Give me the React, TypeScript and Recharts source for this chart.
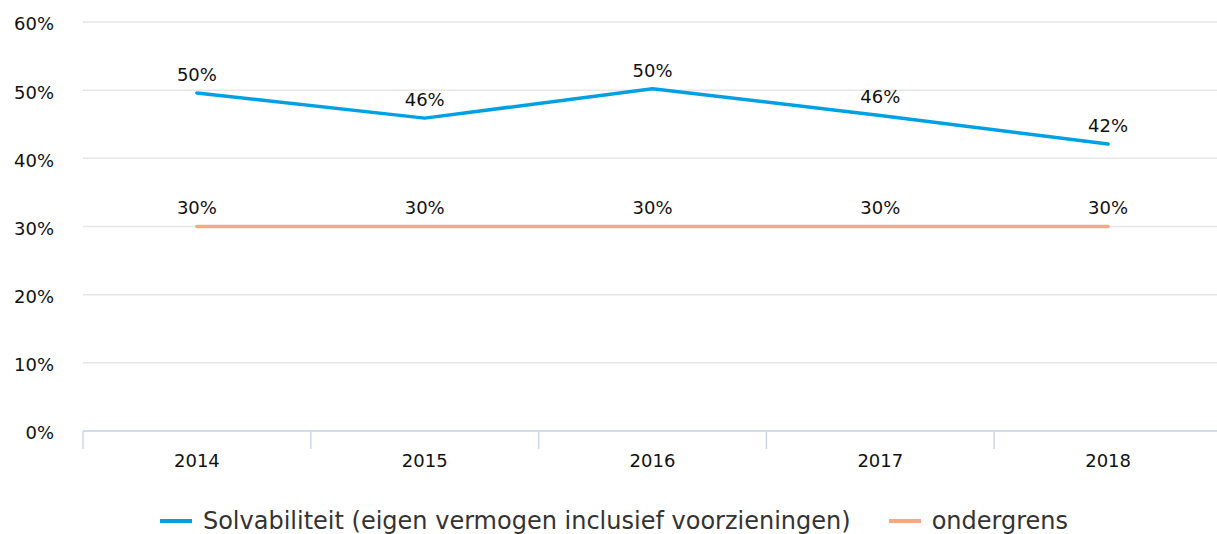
import React from 'react';
import { LineChart, Line, XAxis, YAxis, CartesianGrid, Legend, LabelList } from 'recharts';

const years = ['2014', '2015', '2016', '2017', '2018'];
const solvabiliteit = [49.6, 45.9, 50.2, 46.3, 42.1];
const ondergrens = [30, 30, 30, 30, 30];
const yTicks = [0, 10, 20, 30, 40, 50, 60];

const seriesNames: Record<string, string> = {
  solv: 'Solvabiliteit (eigen vermogen inclusief voorzieningen)',
  onder: 'ondergrens',
};
const seriesOrder = ['solv', 'onder'];

const data = years.map((y, i) => ({ year: y, solv: solvabiliteit[i], onder: ondergrens[i] }));

const W = 1222;
const H = 534;
const Y_AXIS_W = 83;
const BAND = (W - Y_AXIS_W) / years.length;
const FONT = '"DejaVu Sans", Verdana, sans-serif';
const BLUE = '#00a0e3';
const ORANGE = '#f5a983';

const XTick = (props: any) => {
  const { x, y, payload } = props;
  const left = x - BAND / 2;
  return (
    <g>
      <line x1={left} x2={left} y1={y} y2={y + 18} stroke="#ccd6eb" strokeWidth={1.5} />
      <text x={x} y={y + 36} textAnchor="middle" fontSize={18} fill="#111" fontFamily={FONT}>
        {payload.value}
      </text>
    </g>
  );
};

const LegendContent = (props: any) => {
  const payload = [...(props.payload || [])].sort(
    (a: any, b: any) => seriesOrder.indexOf(a.dataKey) - seriesOrder.indexOf(b.dataKey)
  );
  return (
    <div
      style={{
        display: 'flex',
        justifyContent: 'center',
        alignItems: 'center',
        height: 63,
        paddingTop: 37,
        paddingLeft: 6,
        boxSizing: 'border-box',
        fontFamily: FONT,
        fontSize: 24,
        lineHeight: '28px',
        color: '#333',
        gap: 38,
      }}
    >
      {payload.map((p: any) => (
        <div key={p.dataKey} style={{ display: 'flex', alignItems: 'center' }}>
          <div style={{ width: 32, height: 4, background: p.color, marginRight: 11 }} />
          <span>{seriesNames[p.dataKey]}</span>
        </div>
      ))}
    </div>
  );
};

export default function App() {
  return (
    <div style={{ position: 'absolute', left: 0, top: 0, width: 1217, height: H, overflow: 'hidden', background: '#fff' }}>
      <LineChart width={W} height={H} data={data} margin={{ top: 22, right: 0, bottom: 0, left: 0 }}>
        <CartesianGrid vertical={false} stroke="#e6e6e6" strokeWidth={1.5} />
        <XAxis
          dataKey="year"
          height={40}
          padding={{ left: BAND / 2, right: BAND / 2 }}
          axisLine={{ stroke: '#ccd6eb', strokeWidth: 1.5 }}
          tickLine={false}
          tickSize={0}
          tickMargin={0}
          tick={<XTick />}
          interval={0}
        />
        <YAxis
          width={Y_AXIS_W}
          domain={[0, 60]}
          ticks={yTicks}
          axisLine={false}
          tickLine={false}
          tickSize={0}
          tickMargin={29}
          tickFormatter={(v: number) => `${v}%`}
          tick={{ fontSize: 18, fill: '#111', fontFamily: FONT, dy: 2 }}
        />
        <Legend verticalAlign="bottom" height={63} content={<LegendContent />} />
        <Line
          dataKey="solv"
          stroke={BLUE}
          strokeWidth={3.5}
          strokeLinecap="round"
          strokeLinejoin="round"
          dot={false}
          activeDot={false}
          isAnimationActive={false}
        >
          <LabelList
            dataKey="solv"
            position="top"
            offset={12}
            formatter={(v: any) => `${Math.round(Number(v))}%`}
            style={{ fontSize: 18, fill: '#111', fontFamily: FONT }}
          />
        </Line>
        <Line
          dataKey="onder"
          stroke={ORANGE}
          strokeWidth={3.5}
          strokeLinecap="round"
          strokeLinejoin="round"
          dot={false}
          activeDot={false}
          isAnimationActive={false}
        >
          <LabelList
            dataKey="onder"
            position="top"
            offset={13}
            formatter={(v: any) => `${Math.round(Number(v))}%`}
            style={{ fontSize: 18, fill: '#111', fontFamily: FONT }}
          />
        </Line>
      </LineChart>
    </div>
  );
}
